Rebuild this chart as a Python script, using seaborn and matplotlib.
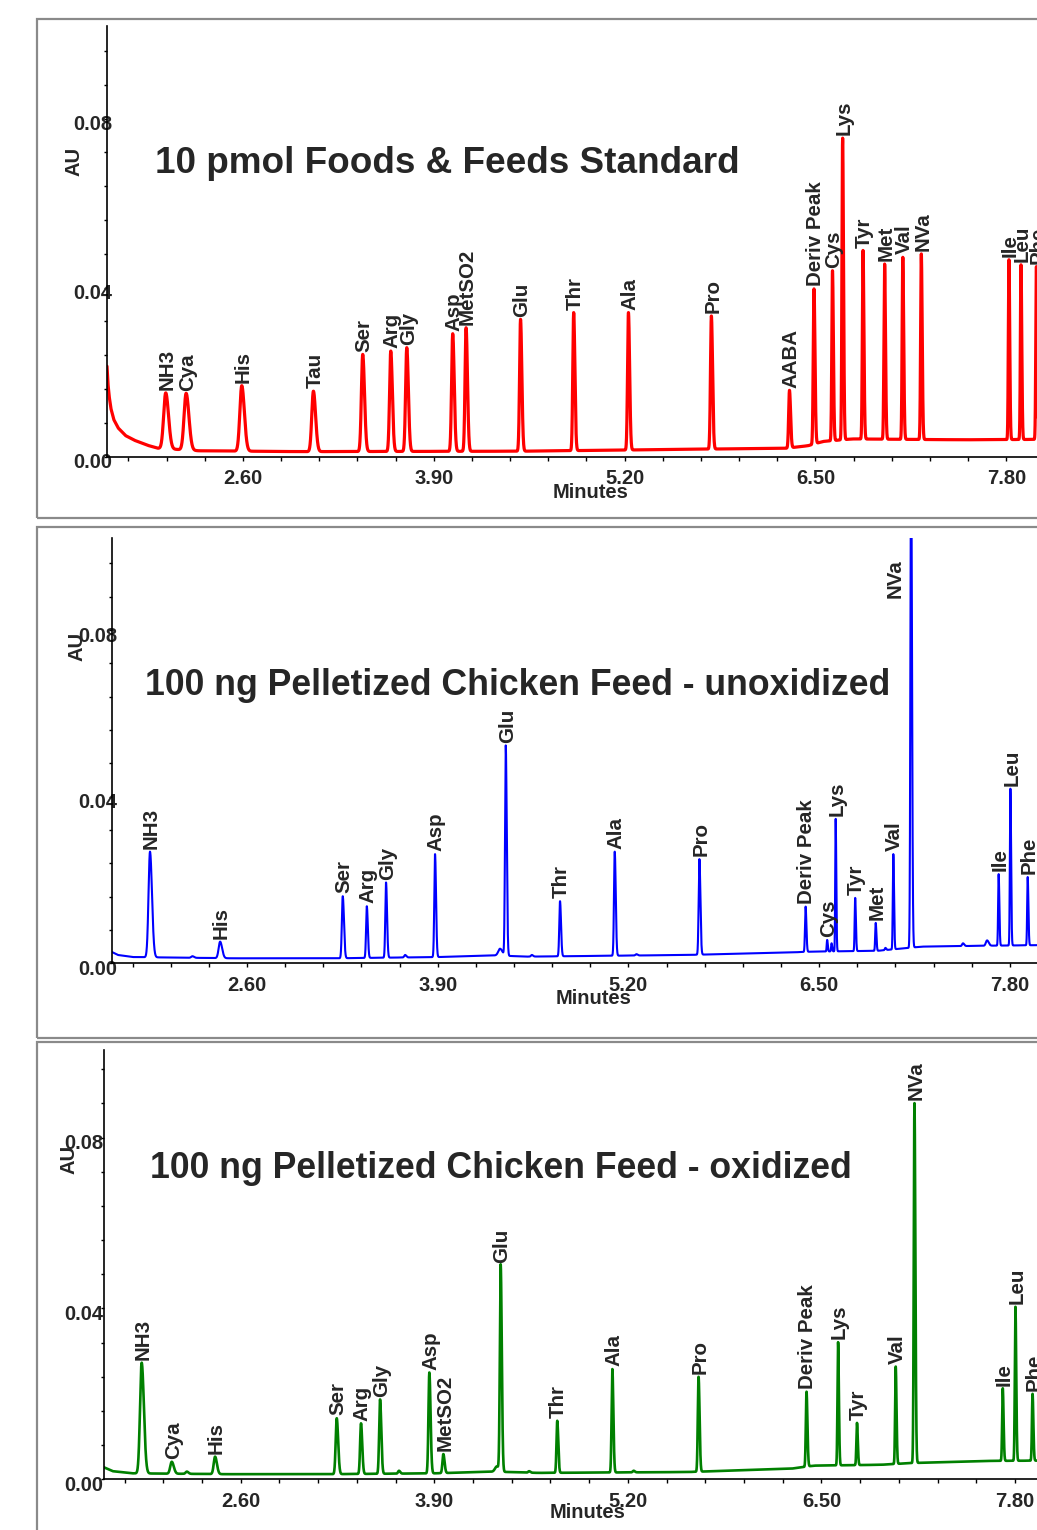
import numpy as np
import pandas as pd
import matplotlib
matplotlib.use("Agg")
import matplotlib.pyplot as plt
from matplotlib.patches import Rectangle
from matplotlib.ticker import MultipleLocator, FormatStrFormatter
from matplotlib.transforms import ScaledTranslation
import seaborn as sns

# ---------------- data ----------------
std_names = ["NH3", "Cya", "His", "Tau", "Ser", "Arg", "Gly", "Asp", "MetSO2", "Glu",
             "Thr", "Ala", "Pro", "AABA", "Deriv Peak", "Cys", "Lys", "Tyr", "Met",
             "Val", "NVa", "Ile", "Leu", "Phe"]
std_rt = [2.074, 2.213, 2.592, 3.080, 3.416, 3.607, 3.716, 4.029, 4.120, 4.491,
          4.853, 5.226, 5.791, 6.323, 6.490, 6.616, 6.685, 6.824, 6.971,
          7.095, 7.221, 7.818, 7.900, 8.005]
std_height = [0.0151, 0.0150, 0.0168, 0.0155, 0.0242, 0.0250, 0.0258, 0.0291, 0.0305, 0.0325,
              0.0341, 0.0341, 0.0333, 0.0157, 0.0397, 0.0440, 0.0754, 0.0488, 0.0456,
              0.0472, 0.0480, 0.0466, 0.0454, 0.0450]
std_width = [0.014, 0.014, 0.013, 0.011, 0.009, 0.008, 0.008, 0.0075, 0.007, 0.0065,
             0.006, 0.006, 0.006, 0.0055, 0.005, 0.0045, 0.0045, 0.0045, 0.0045,
             0.0045, 0.0045, 0.004, 0.004, 0.004]
std_base_t = [1.674, 1.680, 1.688, 1.700, 1.720, 1.750, 1.800, 1.860, 1.950, 2.020, 2.3, 3.0,
              4.5, 5.5, 6.3, 6.45, 6.55, 6.75, 7.5, 8.6]
std_base_v = [0.0214, 0.0175, 0.0145, 0.0115, 0.0088, 0.0068, 0.0050, 0.0039, 0.0027, 0.0020,
              0.0014, 0.0012, 0.0013, 0.0017, 0.0020, 0.0026, 0.0036, 0.0042, 0.0040, 0.0042]

unox_names = ["NH3", "", "His", "Ser", "Arg", "Gly", "", "Asp", "", "Glu", "", "Thr", "Ala", "",
              "Pro", "Deriv Peak", "Cys", "", "Lys", "Tyr", "Met", "", "Val", "NVa", "", "",
              "Ile", "Leu", "Phe"]
unox_rt = [1.939, 2.228, 2.417, 3.253, 3.417, 3.548, 3.678, 3.882, 4.325, 4.364, 4.542, 4.734,
           5.107, 5.254, 5.684, 6.408, 6.555, 6.585, 6.613, 6.746, 6.886, 6.952, 7.006, 7.127,
           7.481, 7.645, 7.724, 7.804, 7.922]
unox_height = [0.0268, 0.0017, 0.0052, 0.0161, 0.0137, 0.0194, 0.0020, 0.0262, 0.0035, 0.0522,
               0.0020, 0.0149, 0.0268, 0.0022, 0.0250, 0.0136, 0.0056, 0.0048, 0.0347, 0.0157,
               0.0097, 0.0037, 0.0262, 0.125, 0.0048, 0.0055, 0.0214, 0.0419, 0.0207]
unox_width = [0.010, 0.008, 0.010, 0.006, 0.005, 0.005, 0.006, 0.005, 0.012, 0.005, 0.006, 0.005,
              0.005, 0.006, 0.005, 0.004, 0.003, 0.003, 0.003, 0.0035, 0.0035, 0.004, 0.0035,
              0.0045, 0.006, 0.008, 0.0035, 0.0035, 0.0035]
unox_base_t = [1.680, 1.72, 1.82, 2.5, 3.2, 3.9, 4.3, 4.5, 5.6, 6.3, 6.45, 6.9, 7.2, 7.6, 8.6]
unox_base_v = [0.0027, 0.0020, 0.0015, 0.0012, 0.0012, 0.0015, 0.0019, 0.0016, 0.0020, 0.0026,
               0.0028, 0.0030, 0.0040, 0.0042, 0.0046]

ox_names = ["NH3", "Cya", "", "His", "Ser", "Arg", "Gly", "", "Asp", "MetSO2", "", "Glu", "",
            "Thr", "Ala", "", "Pro", "Deriv Peak", "Lys", "Tyr", "Val", "NVa", "Ile", "Leu", "Phe"]
ox_rt = [1.935, 2.137, 2.238, 2.428, 3.245, 3.408, 3.536, 3.663, 3.867, 3.961, 4.320, 4.346,
         4.537, 4.726, 5.096, 5.239, 5.675, 6.400, 6.612, 6.739, 6.999, 7.125, 7.718, 7.803, 7.918]
ox_height = [0.0273, 0.0041, 0.0018, 0.0053, 0.0143, 0.0131, 0.0187, 0.0020, 0.0250, 0.0059,
             0.0030, 0.0500, 0.0019, 0.0137, 0.0258, 0.0020, 0.0240, 0.0205, 0.0321, 0.0132,
             0.0264, 0.0881, 0.0213, 0.0404, 0.0200]
ox_width = [0.011, 0.010, 0.008, 0.009, 0.007, 0.006, 0.006, 0.006, 0.006, 0.006, 0.012, 0.0055,
            0.006, 0.005, 0.005, 0.006, 0.005, 0.0045, 0.004, 0.004, 0.004, 0.0045, 0.004, 0.004,
            0.004]
ox_base_t = [1.682, 1.74, 1.87, 2.5, 3.2, 3.9, 4.3, 4.6, 5.6, 6.3, 6.45, 6.9, 7.1, 7.6, 8.6]
ox_base_v = [0.0028, 0.0019, 0.0014, 0.0012, 0.0012, 0.0014, 0.0018, 0.0015, 0.0017, 0.0025,
             0.0032, 0.0034, 0.0038, 0.0043, 0.0045]

titles = ["10 pmol Foods & Feeds Standard",
          "100 ng Pelletized Chicken Feed - unoxidized",
          "100 ng Pelletized Chicken Feed - oxidized"]
y_label = "AU"
x_label = "Minutes"

# ---------------- style ----------------
sns.set_style("white")
plt.rcParams['font.family'] = ['Liberation Sans', 'DejaVu Sans']
plt.rcParams['font.weight'] = 'bold'

W, H = 1037, 1530
fig = plt.figure(figsize=(W / 100, H / 100), dpi=100)


def fx(px):
    return px / W


def fy(py):
    return 1 - py / H


def trace(t, rt, height, width, base_t, base_v):
    y = np.interp(t, base_t, base_v)
    for r, h, s in zip(rt, height, width):
        amp = h - np.interp(r, base_t, base_v)
        sig = np.where(t < r, s, s * 1.35)
        y = y + amp * np.exp(-0.5 * ((t - r) / sig) ** 2)
    return y


panels = [
    dict(names=std_names, rt=std_rt, h=std_height, w=std_width, bt=std_base_t, bv=std_base_v,
         color="#ff0000", lw=2.3, left=107, axis_y=456.7, top=26, x0=1.674, ppm=146.8, ytop=0.1019,
         title=titles[0], tsize=26.6, tpos=(155, 173.3), au=(74, 161), minutes=(591, 492),
         frame=(18.5, 517.7), ypad=-6.6),
    dict(names=unox_names, rt=unox_rt, h=unox_height, w=unox_width, bt=unox_base_t, bv=unox_base_v,
         color="#0000ff", lw=1.5, left=112, axis_y=963.3, top=538.3, x0=1.680, ppm=146.7, ytop=0.102,
         title=titles[1], tsize=25.7, tpos=(145, 695), au=(77, 646), minutes=(594, 998),
         frame=(526.7, 1038.3), ypad=-6.6),
    dict(names=ox_names, rt=ox_rt, h=ox_height, w=ox_width, bt=ox_base_t, bv=ox_base_v,
         color="#008000", lw=1.9, left=104, axis_y=1479.3, top=1050, x0=1.682, ppm=148.9, ytop=0.1005,
         title=titles[2], tsize=25.7, tpos=(150, 1178.3), au=(69, 1159), minutes=(588, 1513),
         frame=(1041.7, 1545), ypad=-1.9),
]

XMAX = 8.6
for p in panels:
    # frame
    ftop, fbot = p["frame"]
    fig.add_artist(Rectangle((fx(37), fy(fbot)), fx(1120) - fx(37), (fbot - ftop) / H,
                             transform=fig.transFigure, fill=False, ec="#8a8a8a", lw=1.6, zorder=0))

    width_px = (XMAX - p["x0"]) * p["ppm"]
    height_px = p["axis_y"] - p["top"]
    ax = fig.add_axes([fx(p["left"]), fy(p["axis_y"]), width_px / W, height_px / H])
    ax.patch.set_alpha(0)

    t = np.arange(p["x0"], XMAX, 0.0004)
    y = trace(t, p["rt"], p["h"], p["w"], p["bt"], p["bv"])
    df = pd.DataFrame({"Minutes": t, "AU": y})
    sns.lineplot(data=df, x="Minutes", y="AU", ax=ax, color=p["color"], linewidth=p["lw"],
                 estimator=None, sort=False)
    ax.set_xlim(p["x0"], XMAX)
    ax.set_ylim(0, p["ytop"])
    ax.set_xlabel("")
    ax.set_ylabel("")

    sns.despine(ax=ax)
    for s in ("left", "bottom"):
        ax.spines[s].set_color("black")
        ax.spines[s].set_linewidth(1.2)

    ax.xaxis.set_major_locator(MultipleLocator(1.3))
    ax.xaxis.set_minor_locator(MultipleLocator(0.26))
    ax.xaxis.set_major_formatter(FormatStrFormatter("%.2f"))
    ax.yaxis.set_major_locator(MultipleLocator(0.04))
    ax.yaxis.set_minor_locator(MultipleLocator(0.008))
    ax.yaxis.set_major_formatter(FormatStrFormatter("%.2f"))
    ax.tick_params(axis="x", which="both", bottom=True, direction="out", length=3, width=1,
                   color="black", labelsize=14.5, pad=6)
    ax.tick_params(axis="y", which="both", left=True, direction="out", length=2.5, width=1,
                   color="black")
    ax.tick_params(axis="y", which="major", labelsize=14.5, pad=p["ypad"])

    # peak labels
    for name, r, h in zip(p["names"], p["rt"], p["h"]):
        if not name:
            continue
        if h > p["ytop"]:
            ax.annotate(name, xy=(r, 0.86 * p["ytop"]), xytext=(-4.5, 0), textcoords="offset points",
                        rotation=90, ha="right", va="bottom", fontsize=14.8, fontweight="bold",
                        annotation_clip=False)
        else:
            ax.annotate(name, xy=(r, h), xytext=(1, 2), textcoords="offset points",
                        rotation=90, ha="center", va="bottom", fontsize=14.8, fontweight="bold",
                        annotation_clip=False)

    for lbl in ax.get_yticklabels():
        lbl.set_transform(lbl.get_transform() + ScaledTranslation(0, -3 / 72, fig.dpi_scale_trans))

    fig.text(fx(p["tpos"][0]), fy(p["tpos"][1]), p["title"], ha="left", va="baseline",
             fontsize=p["tsize"], fontweight="bold")
    fig.text(fx(p["au"][0]), fy(p["au"][1]), y_label, rotation=90, ha="center", va="center",
             fontsize=14.5, fontweight="bold")
    fig.text(fx(p["minutes"][0]), fy(p["minutes"][1]), x_label, ha="center", va="center",
             fontsize=14.5, fontweight="bold")

fig.savefig("out.png", dpi=100)
